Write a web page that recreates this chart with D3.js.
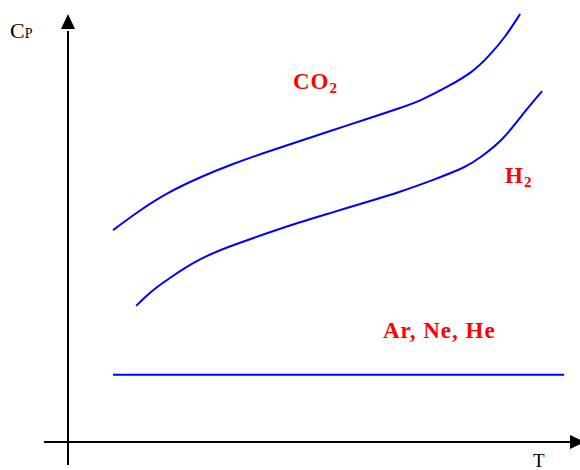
<!DOCTYPE html>
<html>
<head>
<meta charset="utf-8">
<script src="https://cdn.jsdelivr.net/npm/d3@7"></script>
<style>
  html, body { margin: 0; padding: 0; background: #fff; overflow: hidden; }
  svg { display: block; }
</style>
</head>
<body>
<svg id="chart" width="580" height="470"></svg>
<script>
// Data (arbitrary units: T and Cp on a 0..100 scale)
const co2T  = [8.8, 14.1, 19.3, 25.8, 32.2, 38.9, 45.3, 51.8, 58.4, 64.8, 68.8, 74.0, 79.1, 82.4, 85.4, 88.3];
const co2Cp = [49.5, 54.2, 58.2, 61.9, 65.0, 67.8, 70.3, 72.9, 75.5, 78.0, 79.7, 82.9, 86.4, 90.4, 94.6, 100];
const h2T   = [13.3, 16.0, 19.3, 25.8, 32.2, 38.9, 45.3, 51.8, 58.4, 64.8, 71.3, 77.9, 80.5, 85.0, 88.3, 92.6];
const h2Cp  = [31.8, 35.0, 37.9, 43.0, 46.0, 48.8, 51.4, 53.7, 56.1, 58.4, 61.2, 64.3, 66.4, 70.6, 75.9, 82.0];
const nobleT  = [8.8, 96.9];
const nobleCp = [15.7, 15.7];
const seriesLabels = ["CO", "H", "Ar, Ne, He"];

const svg = d3.select("#chart");
const x = d3.scaleLinear().domain([0, 100]).range([68, 580]);
const y = d3.scaleLinear().domain([0, 100]).range([442, 14]);
const serif = "'Liberation Serif', 'Times New Roman', serif";

// Axes
svg.append("line")
  .attr("x1", x(0)).attr("x2", x(0))
  .attr("y1", y(-5.4)).attr("y2", y(96))
  .attr("stroke", "#000").attr("stroke-width", 2);
svg.append("path")
  .attr("d", `M${x(0)},${y(100)} L${x(0) - 7},${y(100) + 15} L${x(0) + 7},${y(100) + 15} Z`)
  .attr("fill", "#000");
svg.append("line")
  .attr("x1", x(-4.7)).attr("x2", x(99))
  .attr("y1", y(0)).attr("y2", y(0))
  .attr("stroke", "#000").attr("stroke-width", 2);
svg.append("path")
  .attr("d", `M${x(100) + 5},${y(0)} L${x(100) - 10},${y(0) - 7} L${x(100) - 10},${y(0) + 7} Z`)
  .attr("fill", "#000");

// Axis labels
const cp = svg.append("text")
  .attr("x", 10).attr("y", 38)
  .attr("font-family", serif)
  .attr("font-size", 22).attr("fill", "#000");
cp.append("tspan").text("C");
cp.append("tspan").attr("font-size", 14).text("P");

svg.append("text")
  .attr("x", 533).attr("y", 467)
  .attr("font-family", serif)
  .attr("font-size", 19).attr("fill", "#000")
  .text("T");

// Curves
const line = d3.line().x(d => x(d[0])).y(d => y(d[1])).curve(d3.curveBasis);
const series = [
  d3.zip(co2T, co2Cp),
  d3.zip(h2T, h2Cp),
  d3.zip(nobleT, nobleCp)
];
svg.selectAll("path.curve").data(series).enter().append("path")
  .attr("class", "curve")
  .attr("d", line)
  .attr("fill", "none")
  .attr("stroke", "#0000FF")
  .attr("stroke-width", 2);

// Series labels
const lab = (tx, ty, main, sub) => {
  const t = svg.append("text")
    .attr("x", tx).attr("y", ty)
    .attr("font-family", serif)
    .attr("font-weight", "bold")
    .attr("letter-spacing", 1)
    .attr("font-size", 23).attr("fill", "#FF0000");
  t.append("tspan").text(main);
  if (sub) t.append("tspan").attr("font-size", 15).attr("dy", 4).text(sub);
};
lab(293, 89, seriesLabels[0], "2");
lab(505, 183, seriesLabels[1], "2");
lab(383, 338, seriesLabels[2], null);
</script>
</body>
</html>
